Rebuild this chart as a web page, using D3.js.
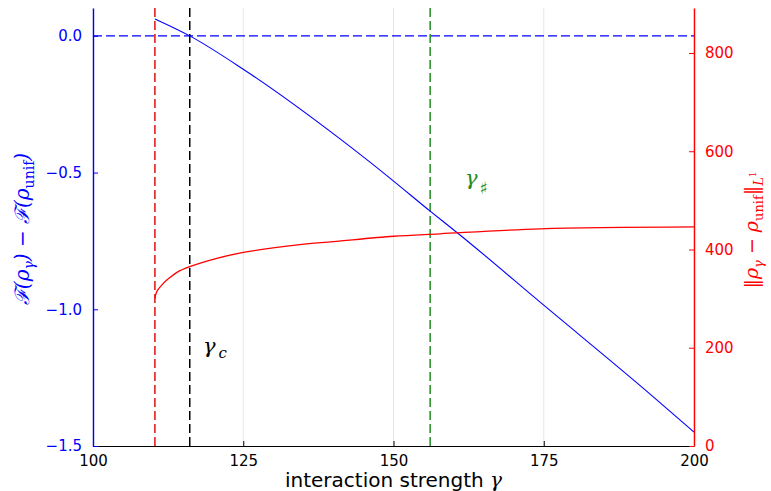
<!DOCTYPE html>
<html>
<head>
<meta charset="utf-8">
<script src="https://cdn.jsdelivr.net/npm/d3@7"></script>
<style>
  body { margin: 0; background: #fff; }
  svg { display: block; }
  .tick text { font-family: "DejaVu Sans", sans-serif; font-size: 15px; }
  .math { font-family: "DejaVu Serif", serif; font-style: italic; }
</style>
</head>
<body>
<svg id="chart" width="771" height="491"></svg>
<script>
// tick values
const gammaTicks = [100, 125, 150, 175, 200];
const freeTicks = [0, -0.5, -1, -1.5];
const normTicks = [0, 200, 400, 600, 800];

// free energy difference F(rho_gamma) - F(rho_unif)
const gammaF = [110.3, 116.1, 125, 141, 149.4, 156.1, 160.5, 175, 192.7, 200];
const freeEnergy = [0.062, 0.0, -0.122, -0.375, -0.52, -0.641, -0.718, -0.985, -1.31, -1.449];

// L1 distance to the uniform state
const gammaN = [110.3, 110.6, 111.7, 112.8, 113.9, 116.1, 120.6, 125, 134.4, 140, 150, 157.7, 174.4, 200];
const l1Norm = [300, 314, 331, 343, 353, 365, 382, 394, 410, 416, 427, 432, 442, 446];

// marked interaction strengths
const gammaLow = 110.3;
const gammaC = 116.1;
const gammaSharp = 156.1;

const svg = d3.select("#chart");
const plotL = 93, plotR = 694, plotT = 8, plotB = 446;

const x = d3.scaleLinear().domain([100, 200]).range([plotL, plotR]);
const yL = d3.scaleLinear().domain([-1.5, 0.102]).range([plotB, plotT]);
const yR = d3.scaleLinear().domain([0, 891.6]).range([plotB, plotT]);

// vertical grid
svg.append("g").selectAll("line").data(gammaTicks).join("line")
  .attr("x1", d => x(d)).attr("x2", d => x(d))
  .attr("y1", plotT).attr("y2", plotB)
  .attr("stroke", "#e6e6e6").attr("stroke-width", 1);

// dashed reference lines
svg.append("line")
  .attr("x1", plotL).attr("x2", plotR)
  .attr("y1", yL(0)).attr("y2", yL(0))
  .attr("stroke", "blue").attr("stroke-width", 1.4).attr("stroke-dasharray", "9,4");

const vlines = [[gammaLow, "#e01010"], [gammaC, "black"], [gammaSharp, "#228b22"]];
svg.append("g").selectAll("line").data(vlines).join("line")
  .attr("x1", d => x(d[0])).attr("x2", d => x(d[0]))
  .attr("y1", plotT).attr("y2", plotB)
  .attr("stroke", d => d[1]).attr("stroke-width", 1.5).attr("stroke-dasharray", "9,4");

// curves
const lineF = d3.line().x((d, i) => x(gammaF[i])).y(d => yL(d)).curve(d3.curveMonotoneX);
svg.append("path").attr("d", lineF(freeEnergy))
  .attr("fill", "none").attr("stroke", "blue").attr("stroke-width", 1.1);

const lineN = d3.line().x((d, i) => x(gammaN[i])).y(d => yR(d)).curve(d3.curveCatmullRom.alpha(0.5));
svg.append("path").attr("d", lineN(l1Norm))
  .attr("fill", "none").attr("stroke", "red").attr("stroke-width", 1.3);

// axes
const gx = svg.append("g").attr("transform", `translate(0,${plotB})`)
  .call(d3.axisBottom(x).tickValues(gammaTicks).tickSize(-5).tickSizeOuter(0).tickPadding(9));
gx.select(".domain").attr("stroke", "black");
gx.selectAll(".tick line").attr("stroke", "black");
gx.selectAll(".tick text").attr("fill", "black");

const gl = svg.append("g").attr("transform", `translate(${plotL},0)`)
  .call(d3.axisLeft(yL).tickValues(freeTicks).tickSize(-5).tickSizeOuter(0).tickPadding(11)
    .tickFormat(d3.format(".1f")));
gl.select(".domain").attr("stroke", "blue").attr("stroke-width", 1.4);
gl.selectAll(".tick line").attr("stroke", "blue");
gl.selectAll(".tick text").attr("fill", "blue");

const gr = svg.append("g").attr("transform", `translate(${plotR},0)`)
  .call(d3.axisRight(yR).tickValues(normTicks).tickSize(-5).tickSizeOuter(0).tickPadding(11));
gr.select(".domain").attr("stroke", "red").attr("stroke-width", 1.4);
gr.selectAll(".tick line").attr("stroke", "red");
gr.selectAll(".tick text").attr("fill", "red");

// x label
const xl = svg.append("text")
  .attr("x", (plotL + plotR) / 2).attr("y", 487)
  .attr("text-anchor", "middle")
  .attr("font-family", "DejaVu Sans, sans-serif").attr("font-size", 20)
  .text("interaction strength ");
xl.append("tspan").attr("class", "math").attr("font-size", 20).text("γ");

// left y label
const ll = svg.append("text").attr("class", "math")
  .attr("transform", "translate(29,229) rotate(-90)")
  .attr("text-anchor", "middle").attr("font-size", 20).attr("fill", "blue");
ll.append("tspan").text("ℱ(ρ");
ll.append("tspan").attr("dy", 5).attr("font-size", 14).text("γ");
ll.append("tspan").attr("dy", -5).text(") − ℱ(ρ");
ll.append("tspan").attr("dy", 5).attr("font-size", 14).attr("font-style", "normal").text("unif");
ll.append("tspan").attr("dy", -5).text(")");

// right y label
const rl = svg.append("text").attr("class", "math")
  .attr("transform", "translate(758,230) rotate(-90)")
  .attr("text-anchor", "middle").attr("font-size", 19).attr("fill", "red");
rl.append("tspan").text("‖ρ");
rl.append("tspan").attr("dy", 5).attr("font-size", 13).text("γ");
rl.append("tspan").attr("dy", -5).text(" − ρ");
rl.append("tspan").attr("dy", 5).attr("font-size", 13).attr("font-style", "normal").text("unif");
rl.append("tspan").attr("dy", -5).text("‖");
rl.append("tspan").attr("dy", 5).attr("font-size", 13).text("L");
rl.append("tspan").attr("dy", -7).attr("font-size", 9).attr("font-style", "normal").text("1");

// annotations
const tc = svg.append("text").attr("class", "math")
  .attr("x", 203).attr("y", 353).attr("font-size", 21).attr("fill", "black");
tc.append("tspan").text("γ");
tc.append("tspan").attr("dx", 3).attr("dy", 5).attr("font-size", 15).text("c");

const ts = svg.append("text").attr("class", "math")
  .attr("x", 465).attr("y", 185).attr("font-size", 21).attr("fill", "#228b22");
ts.append("tspan").text("γ");
ts.append("tspan").attr("dx", 2).attr("dy", 9).attr("font-family", "DejaVu Sans, sans-serif")
  .attr("font-size", 17).attr("font-style", "normal").text("♯");
</script>
</body>
</html>
